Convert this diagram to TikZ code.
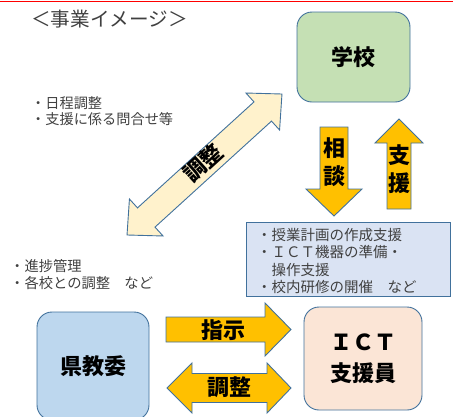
\documentclass[tikz,border=0pt]{standalone}
\usepackage{fontspec}
\setmainfont{Noto Sans CJK JP}
\definecolor{bdc}{HTML}{41719C}
\definecolor{grn}{HTML}{C5E0B4}
\definecolor{blu}{HTML}{BDD7EE}
\definecolor{pch}{HTML}{FBE5D6}
\definecolor{lbx}{HTML}{DAE3F3}
\definecolor{cream}{HTML}{FFF2CC}
\definecolor{org}{HTML}{FFC000}
\definecolor{txt}{HTML}{404040}
\begin{document}
\begin{tikzpicture}[x=1pt,y=-1pt,
  bd/.style={draw=bdc, line width=0.9pt},
  rbox/.style={bd, rounded corners=15pt, font=\fontsize{22}{31}\selectfont\bfseries, align=center, inner sep=0pt},
  note/.style={anchor=west, inner sep=0pt, align=left, text=txt, font=\fontsize{14.3}{17}\selectfont},
  lbl/.style={inner sep=0pt, font=\fontsize{22}{28}\selectfont\bfseries, align=center},
  barrow/.style={bd, fill=org, line join=miter},
  ]
\useasboundingbox (0,0) rectangle (453,416);
\clip (0,0) rectangle (453,416);
\draw[red, line width=1.5pt] (0,1.5) -- (453,1.5);
\node[anchor=west, inner sep=0pt, font=\fontsize{19.6}{20}\selectfont, text=txt] (title) at (31,19) {＜事業イメージ＞};

% boxes
\node[rbox, fill=grn, minimum width=113pt, minimum height=90pt] (school) at (353.5,57) {学校};
\node[rbox, fill=blu, minimum width=112pt, minimum height=108pt] (pref) at (93,366) {県教委};
\node[rbox, fill=pch, minimum width=118pt, minimum height=103pt] (ict) at (363,358.5) {ＩＣＴ\\支援員};
\node[bd, fill=lbx, minimum width=204pt, minimum height=74pt, inner sep=0pt] (tasks) at (348,259) {};
\node[note, font=\fontsize{14.5}{17.3}\selectfont] (taskstext) at (257,261) {・授業計画の作成支援\\・ＩＣＴ機器の準備・\\　操作支援\\・校内研修の開催　など};

% notes
\node[note, font=\fontsize{14.2}{16}\selectfont] (note1) at (31,111) {・日程調整\\・支援に係る問合せ等};
\node[note] (note2) at (10,274.5) {・進捗管理\\・各校との調整　など};

% diagonal double arrow
\begin{scope}[shift={(204.5,164.5)}, rotate=42.3]
\draw[bd, fill=cream, line join=miter] (104.75,0) -- (78.75,25) -- (78.75,13) -- (-78.75,13) -- (-78.75,25) -- (-104.75,0) -- (-78.75,-25) -- (-78.75,-13) -- (78.75,-13) -- (78.75,-25) -- cycle;
\end{scope}
\node[lbl, rotate=42.3] (diaglbl) at (203,163) {調整};

% vertical arrows
\draw[barrow] (320,127) -- (348,127) -- (348,189) -- (362,189) -- (334,216) -- (306,189) -- (320,189) -- cycle;
\node[lbl] (soudan) at (334,162) {相\\談};
\draw[barrow] (399,119) -- (423,143) -- (411,143) -- (411,209) -- (387,209) -- (387,143) -- (375,143) -- cycle;
\node[lbl] (shien) at (399,169) {支\\援};

% horizontal arrows
\draw[barrow] (166,317) -- (265,317) -- (265,303) -- (291,329.5) -- (265,356) -- (265,342) -- (166,342) -- cycle;
\node[lbl] (shiji) at (223,330) {指示};
\draw[barrow] (167,388) -- (192,363) -- (192,373.5) -- (267,373.5) -- (267,363) -- (291,388) -- (267,413) -- (267,402.5) -- (192,402.5) -- (192,413) -- cycle;
\node[lbl] (chosei) at (229,387.5) {調整};
\end{tikzpicture}
\end{document}
